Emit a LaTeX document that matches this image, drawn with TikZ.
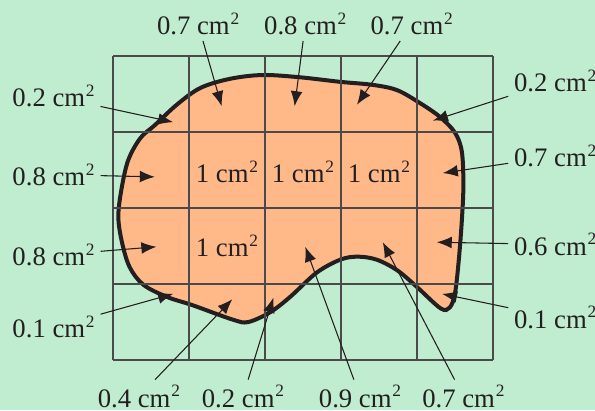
\documentclass[tikz,border=0pt]{standalone}
\usepackage{fontspec}
\setmainfont{Liberation Serif}
\usetikzlibrary{arrows.meta}
\definecolor{Meadow}{HTML}{C0EDD0}
\definecolor{Apricot}{HTML}{FFB888}
\definecolor{Ink}{HTML}{231F20}
\definecolor{GridGray}{HTML}{4A4A4A}
\tikzset{
  area/.style={font=\fontsize{10}{12}\selectfont, text=Ink, inner sep=2pt},
  sidelabel/.style={area, anchor=base west},
  toplabel/.style={area, anchor=base},
  pointer/.style={-{Latex[length=5.6pt,width=4.4pt]}, draw=Ink, line width=0.4pt},
  outline/.style={draw=Ink, line width=1.5pt, fill=Apricot},
  gridlines/.style={draw=GridGray, line width=0.6pt}
}
\newcommand{\sq}[1]{#1 cm\kern0.3pt\raisebox{3.8pt}{\fontsize{6.5}{7}\selectfont 2}}

\begin{document}
\begin{tikzpicture}
  \fill[Meadow] (-1.487,-0.658) rectangle (6.342,4.737);
  \useasboundingbox (-1.487,-0.658) rectangle (6.342,4.737);

  % blob
  \draw[outline] plot[smooth cycle, tension=0.55] coordinates {
    (1.97,3.75) (2.46,3.72) (2.99,3.66) (3.42,3.62) (3.74,3.55) (4.04,3.38)
    (4.30,3.20) (4.50,2.99) (4.59,2.74) (4.61,2.30) (4.59,1.84) (4.55,1.32)
    (4.50,0.88) (4.43,0.69) (4.31,0.68) (4.00,0.96) (3.74,1.18) (3.47,1.32)
    (3.22,1.36) (2.99,1.32) (2.68,1.15) (2.33,0.83) (2.07,0.63) (1.78,0.50)
    (1.58,0.53) (1.05,0.72) (0.71,0.83) (0.40,0.99) (0.22,1.22) (0.12,1.54)
    (0.07,1.88) (0.11,2.24) (0.20,2.63) (0.36,2.92) (0.55,3.09) (0.84,3.36)
    (1.15,3.58) (1.54,3.70)};

  % grid
  \draw[gridlines] (0,0) grid (5,4);

  \node[toplabel] (c1) at (1.5,2.34) {\sq{1}};
  \node[toplabel] (c2) at (2.5,2.34) {\sq{1}};
  \node[toplabel] (c3) at (3.5,2.34) {\sq{1}};
  \node[toplabel] (c4) at (1.5,1.36) {\sq{1}};

  % tips
  \coordinate (tT1) at (1.43,3.34);
  \coordinate (tT2) at (2.39,3.34);
  \coordinate (tT3) at (3.21,3.36);
  \coordinate (tL1) at (0.79,3.13);
  \coordinate (tL2) at (0.55,2.41);
  \coordinate (tL3) at (0.57,1.49);
  \coordinate (tL4) at (0.79,0.87);
  \coordinate (tB1) at (1.57,0.80);
  \coordinate (tB2) at (2.11,0.82);
  \coordinate (tB3) at (2.53,1.49);
  \coordinate (tB4) at (3.55,1.55);
  \coordinate (tR1) at (4.21,3.15);
  \coordinate (tR2) at (4.34,2.46);
  \coordinate (tR3) at (4.26,1.55);
  \coordinate (tR4) at (4.33,0.87);

  % labels
  \node[toplabel] (T1) at (1.12,4.28) {\sq{0.7}};
  \node[toplabel] (T2) at (2.53,4.28) {\sq{0.8}};
  \node[toplabel] (T3) at (3.93,4.28) {\sq{0.7}};
  \node[sidelabel] (L1) at (-1.40,3.33) {\sq{0.2}};
  \node[sidelabel] (L2) at (-1.40,2.30) {\sq{0.8}};
  \node[sidelabel] (L3) at (-1.40,1.24) {\sq{0.8}};
  \node[sidelabel] (L4) at (-1.40,0.29) {\sq{0.1}};
  \node[toplabel] (B1) at (0.34,-0.62) {\sq{0.4}};
  \node[toplabel] (B2) at (1.71,-0.62) {\sq{0.2}};
  \node[toplabel] (B3) at (3.25,-0.62) {\sq{0.9}};
  \node[toplabel] (B4) at (4.61,-0.62) {\sq{0.7}};
  \node[sidelabel] (R1) at (5.20,3.53) {\sq{0.2}};
  \node[sidelabel] (R2) at (5.20,2.54) {\sq{0.7}};
  \node[sidelabel] (R3) at (5.20,1.38) {\sq{0.6}};
  \node[sidelabel] (R4) at (5.20,0.42) {\sq{0.1}};

  \foreach \s in {T1,T2,T3,L1,L2,L3,L4,B1,B2,B3,B4,R1,R2,R3,R4}
    \draw[pointer] (\s) -- (t\s);
\end{tikzpicture}
\end{document}
